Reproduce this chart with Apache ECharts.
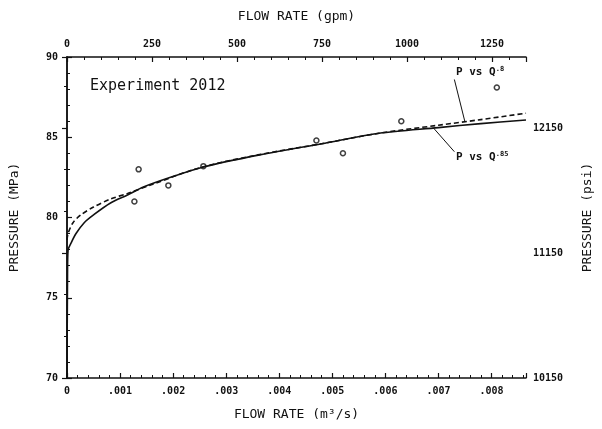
<!DOCTYPE html>
<html>
<head>
<meta charset="utf-8">
<script src="https://cdn.jsdelivr.net/npm/echarts@6/dist/echarts.min.js"></script>
<style>
  html, body { margin: 0; padding: 0; background: #fff; }
  #chart { width: 602px; height: 429px; }
</style>
</head>
<body>
<div id="chart"></div>
<script>
// flow rate axis ticks (m3/s, as printed) and gpm ticks on top
const qTicks = [0, 0.001, 0.002, 0.003, 0.004, 0.005, 0.006, 0.007, 0.008];
const qTickLabels = ['0', '.001', '.002', '.003', '.004', '.005', '.006', '.007', '.008'];
const gpmTicks = [0, 250, 500, 750, 1000, 1250];
const mpaTicks = [70, 75, 80, 85, 90];
const psiTicks = [10150, 11150, 12150];

// measured points (Experiment 2012)
const expQ = [0.00127, 0.00135, 0.00191, 0.00257, 0.0047, 0.0052, 0.0063, 0.0081];
const expP = [81.0, 83.0, 82.0, 83.2, 84.8, 84.0, 86.0, 88.1];

// fitted curve P vs Q^.85 (solid)
const fit85Q = [0, 0.00001, 0.00002, 0.000075, 0.00017, 0.00032, 0.0005, 0.00082, 0.00114, 0.00144, 0.00191, 0.00257, 0.00363, 0.0048, 0.00588, 0.007, 0.0078, 0.00865];
const fit85P = [70, 76.5, 77.97, 78.4, 79.0, 79.66, 80.16, 80.9, 81.4, 81.9, 82.46, 83.15, 83.9, 84.6, 85.25, 85.6, 85.85, 86.07];

// fitted curve P vs Q^.8 (dashed)
const fit8Q = [0, 0.00002, 0.00011, 0.00026, 0.0005, 0.00082, 0.00114, 0.0016, 0.0025, 0.0036, 0.0048, 0.00588, 0.007, 0.0078, 0.00865];
const fit8P = [78.6, 79.0, 79.66, 80.16, 80.65, 81.15, 81.5, 82.05, 83.1, 83.9, 84.6, 85.25, 85.75, 86.1, 86.5];

const font = '"DejaVu Sans Mono", monospace';
const ink = '#111';

const zip = (a, b) => a.map((v, i) => [v, b[i]]);

const chart = echarts.init(document.getElementById('chart'));

const tickFont = { color: ink, fontFamily: font, fontSize: 10, fontWeight: 'bold' };

const frameAxis = (extra) => Object.assign({
  type: 'value',
  axisLine: { show: true, lineStyle: { color: ink, width: 1.5 } },
  axisTick: { show: true, inside: true, length: 5, lineStyle: { color: ink, width: 1.2 } },
  minorTick: { show: true, splitNumber: 5, length: 3, lineStyle: { color: ink, width: 1 } },
  splitLine: { show: false },
  nameTextStyle: { color: ink, fontFamily: font, fontSize: 13 }
}, extra);

chart.setOption({
  animation: false,
  backgroundColor: '#fff',
  grid: { left: 66, right: 74, top: 57, bottom: 51 },
  xAxis: [
    frameAxis({
      position: 'bottom', min: 0, max: 0.00865, interval: 0.001,
      name: 'FLOW RATE (m³/s)', nameLocation: 'middle', nameGap: 30,
      axisLabel: Object.assign({}, tickFont, {
        margin: 8, showMaxLabel: false,
        formatter: v => {
          const i = qTicks.findIndex(t => Math.abs(t - v) < 1e-7);
          return i < 0 ? '' : qTickLabels[i];
        }
      })
    }),
    frameAxis({
      position: 'top', min: 0, max: 1350, interval: 250,
      name: 'FLOW RATE (gpm)', nameLocation: 'middle', nameGap: 34,
      axisLabel: Object.assign({}, tickFont, {
        margin: 8, showMaxLabel: false,
        formatter: v => gpmTicks.includes(v) ? String(v) : ''
      })
    })
  ],
  yAxis: [
    frameAxis({
      position: 'left', min: 70, max: 90, interval: 5,
      name: 'PRESSURE (MPa)', nameLocation: 'middle', nameGap: 46,
      axisLabel: Object.assign({}, tickFont, {
        margin: 9,
        formatter: v => mpaTicks.includes(v) ? String(v) : ''
      })
    }),
    frameAxis({
      position: 'right', min: 10150, max: 12718, interval: 1000,
      minorTick: { show: true, splitNumber: 3, length: 3, lineStyle: { color: ink, width: 1 } },
      name: 'PRESSURE (psi)', nameLocation: 'middle', nameGap: 55, nameRotate: 90,
      axisLabel: Object.assign({}, tickFont, {
        margin: 7, showMaxLabel: false,
        formatter: v => psiTicks.includes(v) ? String(v) : ''
      })
    })
  ],
  series: [
    {
      name: 'P vs Q^.85', type: 'line', xAxisIndex: 0, yAxisIndex: 0,
      data: zip(fit85Q, fit85P), smooth: 0.3, showSymbol: false,
      lineStyle: { color: ink, width: 1.6 },
      markLine: {
        silent: true, symbol: 'none', label: { show: false },
        lineStyle: { color: ink, width: 1, type: 'solid' },
        data: [[{ coord: [0.0069, 85.6] }, { coord: [0.0073, 84.1] }]]
      }
    },
    {
      name: 'P vs Q^.8', type: 'line', xAxisIndex: 0, yAxisIndex: 0,
      data: zip(fit8Q, fit8P), smooth: 0.3, showSymbol: false,
      lineStyle: { color: ink, width: 1.6, type: [5, 3] },
      markLine: {
        silent: true, symbol: 'none', label: { show: false },
        lineStyle: { color: ink, width: 1, type: 'solid' },
        data: [[{ coord: [0.0073, 88.6] }, { coord: [0.0075, 85.95] }]]
      }
    },
    {
      name: 'Experiment 2012', type: 'scatter', xAxisIndex: 0, yAxisIndex: 0,
      data: zip(expQ, expP), symbol: 'circle', symbolSize: 5,
      itemStyle: { color: '#fff', borderColor: ink, borderWidth: 1.5 }
    }
  ],
  graphic: [
    { type: 'text', left: 90, top: 79, style: { text: 'Experiment 2012', font: '15px ' + font, fill: ink } },
    { type: 'text', left: 456, top: 66, style: {
        text: 'P vs Q{s|.8}', font: 'bold 11px ' + font, fill: ink,
        rich: { s: { font: 'bold 7px ' + font, fill: ink, verticalAlign: 'top', padding: [0, 0, 6, 0] } }
    } },
    { type: 'text', left: 456, top: 151, style: {
        text: 'P vs Q{s|.85}', font: 'bold 11px ' + font, fill: ink,
        rich: { s: { font: 'bold 7px ' + font, fill: ink, verticalAlign: 'top', padding: [0, 0, 6, 0] } }
    } }
  ]
});
</script>
</body>
</html>
